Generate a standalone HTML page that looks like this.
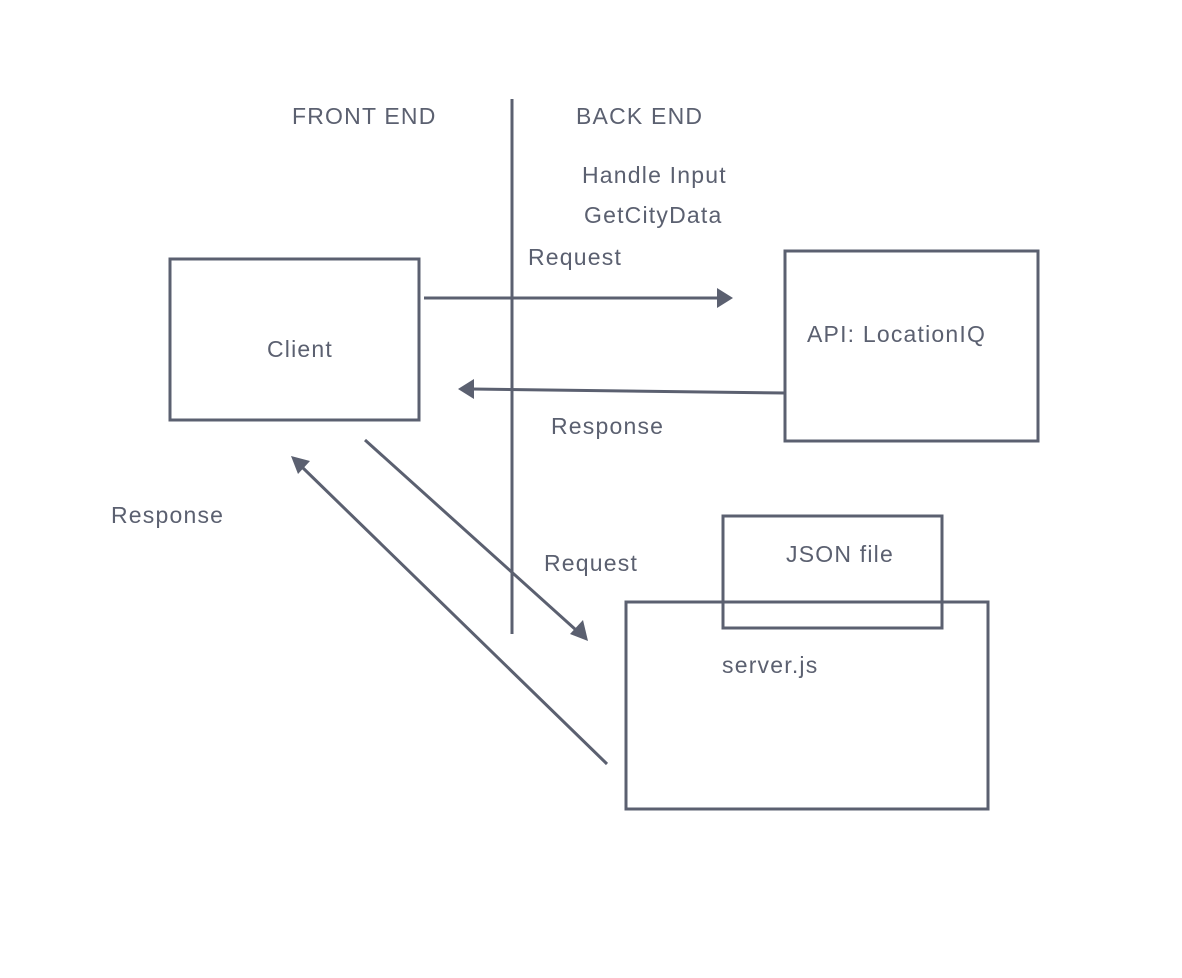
<!DOCTYPE html>
<html><head><style>
html,body{margin:0;padding:0;background:#fff;}
svg{display:block;}
text{font-family:"Liberation Sans",sans-serif;font-size:23px;letter-spacing:1.2px;fill:#5b6070;}
</style></head><body>
<svg width="1182" height="978" viewBox="0 0 1182 978">
<g stroke="#5b6070" stroke-width="3" fill="none">
<line x1="512" y1="99" x2="512" y2="634"/>
<rect x="170" y="259" width="249" height="161"/>
<rect x="785" y="251" width="253" height="190"/>
<rect x="626" y="602" width="362" height="207"/>
<rect x="723" y="516" width="219" height="112"/>
<line x1="424" y1="298" x2="718" y2="298"/>
<line x1="785" y1="393" x2="472" y2="389"/>
<line x1="365" y1="440" x2="576" y2="630"/>
<line x1="607" y1="764" x2="302" y2="467"/>
</g>
<g fill="#5b6070">
<polygon points="733,298 717,288 717,308"/>
<polygon points="458,389 474,379 474,399"/>
<polygon points="588,641 570,634 583,620"/>
<polygon points="291,456 298,474 310,461"/>
</g>
<text x="292" y="124">FRONT END</text>
<text x="576" y="124">BACK END</text>
<text x="582" y="183">Handle Input</text>
<text x="584" y="223">GetCityData</text>
<text x="528" y="265">Request</text>
<text x="267" y="357">Client</text>
<text x="807" y="342">API: LocationIQ</text>
<text x="551" y="434">Response</text>
<text x="111" y="523">Response</text>
<text x="544" y="571">Request</text>
<text x="786" y="562">JSON file</text>
<text x="722" y="673">server.js</text>
</svg>
</body></html>
